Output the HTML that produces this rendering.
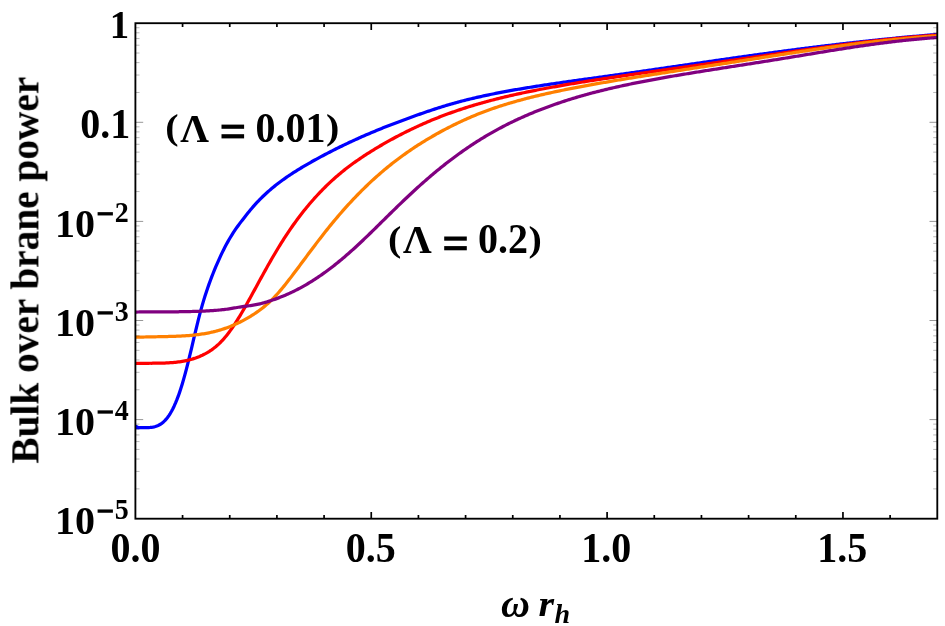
<!DOCTYPE html><html><head><meta charset="utf-8"><title>plot</title><style>html,body{margin:0;padding:0;background:#fff}svg{display:block}text{font-family:"Liberation Serif",serif;font-weight:bold;fill:#000}</style></head><body>
<svg width="945" height="626" viewBox="0 0 945 626">
<rect width="945" height="626" fill="#fff"/>
<defs><clipPath id="c"><rect x="135.40" y="23.20" width="802.89" height="495.50"/></clipPath></defs>
<g fill="none" stroke-width="3.25" stroke-linejoin="round" clip-path="url(#c)">
<path stroke="#0000ff" d="M135.40 427.64 L136.74 427.66 L138.08 427.68 L139.42 427.70 L140.75 427.71 L142.09 427.71 L143.43 427.71 L144.77 427.70 L146.11 427.67 L147.45 427.62 L148.79 427.55 L150.13 427.44 L151.46 427.29 L152.80 427.08 L154.14 426.81 L155.48 426.46 L156.82 426.03 L158.16 425.48 L159.50 424.82 L160.84 424.01 L162.17 423.06 L163.51 421.94 L164.85 420.65 L166.19 419.17 L167.53 417.49 L168.87 415.61 L170.21 413.53 L171.55 411.24 L172.88 408.72 L174.22 405.96 L175.56 402.96 L176.90 399.70 L178.24 396.17 L179.58 392.38 L180.92 388.31 L182.26 383.98 L183.59 379.40 L184.93 374.58 L186.27 369.56 L187.61 364.34 L188.95 358.95 L190.29 353.42 L191.63 347.78 L192.96 342.10 L194.30 336.42 L195.64 330.80 L196.98 325.29 L198.32 319.91 L199.66 314.71 L201.00 309.70 L202.34 304.93 L203.67 300.38 L205.01 296.04 L206.35 291.90 L207.69 287.93 L209.03 284.12 L210.37 280.45 L211.71 276.91 L213.05 273.50 L214.38 270.19 L215.72 266.97 L217.06 263.84 L218.40 260.79 L219.74 257.83 L221.08 254.94 L222.42 252.15 L223.76 249.44 L225.09 246.82 L226.43 244.29 L227.77 241.85 L229.11 239.51 L230.45 237.24 L231.79 235.06 L233.13 232.95 L234.46 230.91 L235.80 228.94 L237.14 227.04 L238.48 225.19 L239.82 223.40 L241.16 221.64 L242.50 219.90 L243.84 218.19 L245.17 216.48 L246.51 214.79 L247.85 213.11 L249.19 211.46 L250.53 209.83 L251.87 208.23 L253.21 206.67 L254.55 205.15 L255.88 203.66 L257.22 202.21 L258.56 200.80 L259.90 199.42 L261.24 198.07 L262.58 196.75 L263.92 195.47 L265.26 194.21 L266.59 192.98 L267.93 191.78 L269.27 190.60 L270.61 189.45 L271.95 188.32 L273.29 187.21 L274.63 186.13 L275.97 185.06 L277.30 184.02 L278.64 182.99 L279.98 181.98 L281.32 180.99 L282.66 180.02 L284.00 179.06 L285.34 178.12 L286.67 177.19 L288.01 176.27 L289.35 175.37 L290.69 174.48 L292.03 173.60 L293.37 172.74 L294.71 171.88 L296.05 171.04 L297.38 170.20 L298.72 169.37 L300.06 168.56 L301.40 167.75 L302.74 166.95 L304.08 166.15 L305.42 165.37 L306.76 164.59 L308.09 163.82 L309.43 163.05 L310.77 162.29 L312.11 161.53 L313.45 160.78 L314.79 160.04 L316.13 159.30 L317.47 158.57 L318.80 157.84 L320.14 157.12 L321.48 156.40 L322.82 155.69 L324.16 154.98 L325.50 154.28 L326.84 153.58 L328.17 152.89 L329.51 152.20 L330.85 151.51 L332.19 150.83 L333.53 150.15 L334.87 149.48 L336.21 148.81 L337.55 148.15 L338.88 147.49 L340.22 146.83 L341.56 146.18 L342.90 145.53 L344.24 144.88 L345.58 144.24 L346.92 143.61 L348.26 142.97 L349.59 142.34 L350.93 141.72 L352.27 141.10 L353.61 140.48 L354.95 139.87 L356.29 139.26 L357.63 138.65 L358.97 138.05 L360.30 137.45 L361.64 136.86 L362.98 136.27 L364.32 135.68 L365.66 135.10 L367.00 134.52 L368.34 133.95 L369.68 133.38 L371.01 132.81 L372.35 132.25 L373.69 131.69 L375.03 131.13 L376.37 130.58 L377.71 130.03 L379.05 129.48 L380.38 128.94 L381.72 128.40 L383.06 127.86 L384.40 127.33 L385.74 126.80 L387.08 126.27 L388.42 125.74 L389.76 125.22 L391.09 124.70 L392.43 124.19 L393.77 123.67 L395.11 123.16 L396.45 122.66 L397.79 122.15 L399.13 121.65 L400.47 121.15 L401.80 120.65 L403.14 120.15 L404.48 119.66 L405.82 119.16 L407.16 118.67 L408.50 118.18 L409.84 117.70 L411.18 117.21 L412.51 116.73 L413.85 116.25 L415.19 115.77 L416.53 115.29 L417.87 114.82 L419.21 114.35 L420.55 113.88 L421.88 113.41 L423.22 112.95 L424.56 112.49 L425.90 112.03 L427.24 111.57 L428.58 111.12 L429.92 110.67 L431.26 110.23 L432.59 109.79 L433.93 109.35 L435.27 108.91 L436.61 108.48 L437.95 108.05 L439.29 107.63 L440.63 107.20 L441.97 106.79 L443.30 106.37 L444.64 105.97 L445.98 105.56 L447.32 105.16 L448.66 104.76 L450.00 104.37 L451.34 103.99 L452.68 103.60 L454.01 103.22 L455.35 102.85 L456.69 102.48 L458.03 102.12 L459.37 101.76 L460.71 101.40 L462.05 101.05 L463.39 100.70 L464.72 100.36 L466.06 100.02 L467.40 99.69 L468.74 99.36 L470.08 99.03 L471.42 98.71 L472.76 98.39 L474.09 98.07 L475.43 97.76 L476.77 97.45 L478.11 97.14 L479.45 96.84 L480.79 96.54 L482.13 96.25 L483.47 95.95 L484.80 95.66 L486.14 95.38 L487.48 95.09 L488.82 94.81 L490.16 94.53 L491.50 94.26 L492.84 93.99 L494.18 93.72 L495.51 93.45 L496.85 93.19 L498.19 92.92 L499.53 92.66 L500.87 92.41 L502.21 92.15 L503.55 91.90 L504.89 91.65 L506.22 91.40 L507.56 91.15 L508.90 90.91 L510.24 90.67 L511.58 90.43 L512.92 90.19 L514.26 89.96 L515.59 89.72 L516.93 89.49 L518.27 89.26 L519.61 89.03 L520.95 88.80 L522.29 88.58 L523.63 88.36 L524.97 88.13 L526.30 87.91 L527.64 87.70 L528.98 87.48 L530.32 87.26 L531.66 87.05 L533.00 86.83 L534.34 86.62 L535.68 86.41 L537.01 86.20 L538.35 85.99 L539.69 85.79 L541.03 85.58 L542.37 85.38 L543.71 85.17 L545.05 84.97 L546.39 84.77 L547.72 84.57 L549.06 84.37 L550.40 84.17 L551.74 83.97 L553.08 83.78 L554.42 83.58 L555.76 83.38 L557.10 83.19 L558.43 83.00 L559.77 82.80 L561.11 82.61 L562.45 82.42 L563.79 82.23 L565.13 82.04 L566.47 81.85 L567.80 81.66 L569.14 81.47 L570.48 81.28 L571.82 81.09 L573.16 80.90 L574.50 80.71 L575.84 80.53 L577.18 80.34 L578.51 80.15 L579.85 79.97 L581.19 79.78 L582.53 79.60 L583.87 79.41 L585.21 79.23 L586.55 79.04 L587.89 78.86 L589.22 78.67 L590.56 78.49 L591.90 78.30 L593.24 78.12 L594.58 77.93 L595.92 77.75 L597.26 77.57 L598.60 77.38 L599.93 77.20 L601.27 77.01 L602.61 76.83 L603.95 76.64 L605.29 76.46 L606.63 76.27 L607.97 76.09 L609.30 75.90 L610.64 75.72 L611.98 75.53 L613.32 75.35 L614.66 75.16 L616.00 74.97 L617.34 74.79 L618.68 74.60 L620.01 74.41 L621.35 74.22 L622.69 74.03 L624.03 73.84 L625.37 73.66 L626.71 73.47 L628.05 73.28 L629.39 73.09 L630.72 72.90 L632.06 72.71 L633.40 72.51 L634.74 72.32 L636.08 72.13 L637.42 71.94 L638.76 71.75 L640.10 71.56 L641.43 71.36 L642.77 71.17 L644.11 70.98 L645.45 70.78 L646.79 70.59 L648.13 70.40 L649.47 70.20 L650.81 70.01 L652.14 69.82 L653.48 69.62 L654.82 69.43 L656.16 69.23 L657.50 69.04 L658.84 68.84 L660.18 68.65 L661.51 68.45 L662.85 68.26 L664.19 68.06 L665.53 67.87 L666.87 67.67 L668.21 67.48 L669.55 67.28 L670.89 67.09 L672.22 66.89 L673.56 66.70 L674.90 66.50 L676.24 66.31 L677.58 66.11 L678.92 65.92 L680.26 65.72 L681.60 65.52 L682.93 65.33 L684.27 65.13 L685.61 64.94 L686.95 64.74 L688.29 64.55 L689.63 64.35 L690.97 64.16 L692.31 63.96 L693.64 63.77 L694.98 63.57 L696.32 63.38 L697.66 63.18 L699.00 62.99 L700.34 62.79 L701.68 62.60 L703.01 62.40 L704.35 62.21 L705.69 62.01 L707.03 61.82 L708.37 61.63 L709.71 61.43 L711.05 61.24 L712.39 61.04 L713.72 60.85 L715.06 60.66 L716.40 60.47 L717.74 60.27 L719.08 60.08 L720.42 59.89 L721.76 59.70 L723.10 59.50 L724.43 59.31 L725.77 59.12 L727.11 58.93 L728.45 58.74 L729.79 58.55 L731.13 58.36 L732.47 58.16 L733.81 57.97 L735.14 57.78 L736.48 57.59 L737.82 57.41 L739.16 57.22 L740.50 57.03 L741.84 56.84 L743.18 56.65 L744.52 56.46 L745.85 56.27 L747.19 56.09 L748.53 55.90 L749.87 55.71 L751.21 55.53 L752.55 55.34 L753.89 55.15 L755.22 54.97 L756.56 54.78 L757.90 54.60 L759.24 54.41 L760.58 54.23 L761.92 54.05 L763.26 53.86 L764.60 53.68 L765.93 53.50 L767.27 53.31 L768.61 53.13 L769.95 52.95 L771.29 52.77 L772.63 52.59 L773.97 52.41 L775.31 52.23 L776.64 52.05 L777.98 51.87 L779.32 51.69 L780.66 51.51 L782.00 51.33 L783.34 51.16 L784.68 50.98 L786.02 50.80 L787.35 50.63 L788.69 50.45 L790.03 50.28 L791.37 50.10 L792.71 49.93 L794.05 49.75 L795.39 49.58 L796.72 49.41 L798.06 49.23 L799.40 49.06 L800.74 48.89 L802.08 48.72 L803.42 48.55 L804.76 48.38 L806.10 48.21 L807.43 48.04 L808.77 47.87 L810.11 47.70 L811.45 47.54 L812.79 47.37 L814.13 47.20 L815.47 47.04 L816.81 46.87 L818.14 46.71 L819.48 46.54 L820.82 46.38 L822.16 46.21 L823.50 46.05 L824.84 45.89 L826.18 45.73 L827.52 45.57 L828.85 45.41 L830.19 45.25 L831.53 45.09 L832.87 44.93 L834.21 44.77 L835.55 44.61 L836.89 44.45 L838.23 44.30 L839.56 44.14 L840.90 43.98 L842.24 43.83 L843.58 43.67 L844.92 43.52 L846.26 43.37 L847.60 43.21 L848.93 43.06 L850.27 42.91 L851.61 42.76 L852.95 42.61 L854.29 42.46 L855.63 42.31 L856.97 42.16 L858.31 42.01 L859.64 41.87 L860.98 41.72 L862.32 41.57 L863.66 41.43 L865.00 41.28 L866.34 41.14 L867.68 40.99 L869.02 40.85 L870.35 40.71 L871.69 40.57 L873.03 40.42 L874.37 40.28 L875.71 40.14 L877.05 40.00 L878.39 39.87 L879.73 39.73 L881.06 39.59 L882.40 39.45 L883.74 39.32 L885.08 39.18 L886.42 39.05 L887.76 38.91 L889.10 38.78 L890.43 38.65 L891.77 38.51 L893.11 38.38 L894.45 38.25 L895.79 38.12 L897.13 37.99 L898.47 37.86 L899.81 37.74 L901.14 37.61 L902.48 37.48 L903.82 37.35 L905.16 37.23 L906.50 37.10 L907.84 36.98 L909.18 36.86 L910.52 36.73 L911.85 36.61 L913.19 36.49 L914.53 36.37 L915.87 36.25 L917.21 36.13 L918.55 36.01 L919.89 35.90 L921.23 35.78 L922.56 35.66 L923.90 35.55 L925.24 35.43 L926.58 35.32 L927.92 35.21 L929.26 35.09 L930.60 34.98 L931.94 34.87 L933.27 34.76 L934.61 34.65 L935.95 34.54 L937.29 34.43"/>
<path stroke="#ff0000" d="M135.40 363.28 L136.74 363.28 L138.08 363.28 L139.42 363.28 L140.75 363.27 L142.09 363.27 L143.43 363.27 L144.77 363.27 L146.11 363.27 L147.45 363.26 L148.79 363.26 L150.13 363.25 L151.46 363.25 L152.80 363.24 L154.14 363.23 L155.48 363.22 L156.82 363.20 L158.16 363.18 L159.50 363.16 L160.84 363.13 L162.17 363.09 L163.51 363.05 L164.85 363.01 L166.19 362.95 L167.53 362.89 L168.87 362.82 L170.21 362.74 L171.55 362.64 L172.88 362.54 L174.22 362.42 L175.56 362.29 L176.90 362.14 L178.24 361.98 L179.58 361.80 L180.92 361.60 L182.26 361.38 L183.59 361.15 L184.93 360.89 L186.27 360.61 L187.61 360.30 L188.95 359.98 L190.29 359.63 L191.63 359.25 L192.96 358.84 L194.30 358.41 L195.64 357.96 L196.98 357.47 L198.32 356.95 L199.66 356.41 L201.00 355.83 L202.34 355.22 L203.67 354.57 L205.01 353.89 L206.35 353.16 L207.69 352.39 L209.03 351.58 L210.37 350.71 L211.71 349.80 L213.05 348.83 L214.38 347.80 L215.72 346.72 L217.06 345.57 L218.40 344.36 L219.74 343.08 L221.08 341.74 L222.42 340.32 L223.76 338.84 L225.09 337.29 L226.43 335.67 L227.77 333.98 L229.11 332.23 L230.45 330.40 L231.79 328.52 L233.13 326.57 L234.46 324.56 L235.80 322.50 L237.14 320.39 L238.48 318.23 L239.82 316.03 L241.16 313.78 L242.50 311.50 L243.84 309.18 L245.17 306.83 L246.51 304.46 L247.85 302.07 L249.19 299.65 L250.53 297.23 L251.87 294.78 L253.21 292.33 L254.55 289.88 L255.88 287.42 L257.22 284.96 L258.56 282.51 L259.90 280.05 L261.24 277.61 L262.58 275.18 L263.92 272.75 L265.26 270.34 L266.59 267.95 L267.93 265.57 L269.27 263.21 L270.61 260.87 L271.95 258.55 L273.29 256.25 L274.63 253.97 L275.97 251.72 L277.30 249.49 L278.64 247.28 L279.98 245.10 L281.32 242.95 L282.66 240.82 L284.00 238.72 L285.34 236.65 L286.67 234.60 L288.01 232.59 L289.35 230.60 L290.69 228.64 L292.03 226.71 L293.37 224.80 L294.71 222.93 L296.05 221.08 L297.38 219.26 L298.72 217.47 L300.06 215.71 L301.40 213.97 L302.74 212.26 L304.08 210.57 L305.42 208.91 L306.76 207.27 L308.09 205.66 L309.43 204.07 L310.77 202.51 L312.11 200.97 L313.45 199.45 L314.79 197.95 L316.13 196.48 L317.47 195.02 L318.80 193.59 L320.14 192.18 L321.48 190.79 L322.82 189.43 L324.16 188.08 L325.50 186.75 L326.84 185.44 L328.17 184.15 L329.51 182.88 L330.85 181.63 L332.19 180.40 L333.53 179.19 L334.87 177.99 L336.21 176.82 L337.55 175.66 L338.88 174.51 L340.22 173.39 L341.56 172.28 L342.90 171.19 L344.24 170.12 L345.58 169.06 L346.92 168.02 L348.26 167.00 L349.59 165.99 L350.93 164.99 L352.27 164.01 L353.61 163.04 L354.95 162.08 L356.29 161.14 L357.63 160.21 L358.97 159.29 L360.30 158.38 L361.64 157.48 L362.98 156.59 L364.32 155.71 L365.66 154.84 L367.00 153.97 L368.34 153.12 L369.68 152.27 L371.01 151.43 L372.35 150.60 L373.69 149.78 L375.03 148.96 L376.37 148.15 L377.71 147.35 L379.05 146.55 L380.38 145.76 L381.72 144.98 L383.06 144.20 L384.40 143.44 L385.74 142.67 L387.08 141.92 L388.42 141.17 L389.76 140.42 L391.09 139.69 L392.43 138.96 L393.77 138.23 L395.11 137.52 L396.45 136.80 L397.79 136.10 L399.13 135.40 L400.47 134.71 L401.80 134.02 L403.14 133.34 L404.48 132.66 L405.82 131.99 L407.16 131.33 L408.50 130.67 L409.84 130.02 L411.18 129.38 L412.51 128.74 L413.85 128.10 L415.19 127.47 L416.53 126.85 L417.87 126.23 L419.21 125.62 L420.55 125.02 L421.88 124.42 L423.22 123.82 L424.56 123.23 L425.90 122.65 L427.24 122.07 L428.58 121.50 L429.92 120.94 L431.26 120.37 L432.59 119.82 L433.93 119.27 L435.27 118.73 L436.61 118.19 L437.95 117.65 L439.29 117.13 L440.63 116.60 L441.97 116.09 L443.30 115.58 L444.64 115.07 L445.98 114.57 L447.32 114.08 L448.66 113.59 L450.00 113.10 L451.34 112.62 L452.68 112.15 L454.01 111.68 L455.35 111.21 L456.69 110.75 L458.03 110.29 L459.37 109.84 L460.71 109.40 L462.05 108.96 L463.39 108.52 L464.72 108.09 L466.06 107.66 L467.40 107.23 L468.74 106.82 L470.08 106.40 L471.42 105.99 L472.76 105.58 L474.09 105.18 L475.43 104.78 L476.77 104.39 L478.11 104.00 L479.45 103.61 L480.79 103.23 L482.13 102.85 L483.47 102.47 L484.80 102.10 L486.14 101.73 L487.48 101.37 L488.82 101.01 L490.16 100.65 L491.50 100.30 L492.84 99.95 L494.18 99.60 L495.51 99.26 L496.85 98.92 L498.19 98.58 L499.53 98.25 L500.87 97.92 L502.21 97.59 L503.55 97.27 L504.89 96.95 L506.22 96.63 L507.56 96.31 L508.90 96.00 L510.24 95.69 L511.58 95.39 L512.92 95.08 L514.26 94.78 L515.59 94.48 L516.93 94.19 L518.27 93.90 L519.61 93.61 L520.95 93.32 L522.29 93.03 L523.63 92.75 L524.97 92.47 L526.30 92.19 L527.64 91.91 L528.98 91.64 L530.32 91.36 L531.66 91.09 L533.00 90.83 L534.34 90.56 L535.68 90.30 L537.01 90.03 L538.35 89.77 L539.69 89.51 L541.03 89.26 L542.37 89.00 L543.71 88.75 L545.05 88.50 L546.39 88.25 L547.72 88.00 L549.06 87.75 L550.40 87.50 L551.74 87.26 L553.08 87.02 L554.42 86.78 L555.76 86.54 L557.10 86.30 L558.43 86.06 L559.77 85.83 L561.11 85.59 L562.45 85.36 L563.79 85.13 L565.13 84.90 L566.47 84.67 L567.80 84.44 L569.14 84.22 L570.48 83.99 L571.82 83.77 L573.16 83.55 L574.50 83.32 L575.84 83.10 L577.18 82.88 L578.51 82.66 L579.85 82.45 L581.19 82.23 L582.53 82.01 L583.87 81.80 L585.21 81.59 L586.55 81.37 L587.89 81.16 L589.22 80.95 L590.56 80.74 L591.90 80.53 L593.24 80.32 L594.58 80.11 L595.92 79.91 L597.26 79.70 L598.60 79.49 L599.93 79.29 L601.27 79.08 L602.61 78.88 L603.95 78.68 L605.29 78.47 L606.63 78.27 L607.97 78.07 L609.30 77.87 L610.64 77.67 L611.98 77.47 L613.32 77.27 L614.66 77.07 L616.00 76.88 L617.34 76.68 L618.68 76.48 L620.01 76.28 L621.35 76.09 L622.69 75.89 L624.03 75.70 L625.37 75.50 L626.71 75.31 L628.05 75.11 L629.39 74.92 L630.72 74.73 L632.06 74.53 L633.40 74.34 L634.74 74.15 L636.08 73.96 L637.42 73.76 L638.76 73.57 L640.10 73.38 L641.43 73.19 L642.77 73.00 L644.11 72.81 L645.45 72.62 L646.79 72.43 L648.13 72.24 L649.47 72.05 L650.81 71.86 L652.14 71.67 L653.48 71.48 L654.82 71.29 L656.16 71.10 L657.50 70.91 L658.84 70.72 L660.18 70.54 L661.51 70.35 L662.85 70.16 L664.19 69.97 L665.53 69.78 L666.87 69.59 L668.21 69.40 L669.55 69.22 L670.89 69.03 L672.22 68.84 L673.56 68.65 L674.90 68.46 L676.24 68.27 L677.58 68.09 L678.92 67.90 L680.26 67.71 L681.60 67.52 L682.93 67.33 L684.27 67.14 L685.61 66.95 L686.95 66.77 L688.29 66.58 L689.63 66.39 L690.97 66.20 L692.31 66.01 L693.64 65.82 L694.98 65.63 L696.32 65.44 L697.66 65.25 L699.00 65.06 L700.34 64.87 L701.68 64.68 L703.01 64.49 L704.35 64.30 L705.69 64.11 L707.03 63.92 L708.37 63.73 L709.71 63.54 L711.05 63.34 L712.39 63.15 L713.72 62.96 L715.06 62.77 L716.40 62.58 L717.74 62.39 L719.08 62.19 L720.42 62.00 L721.76 61.81 L723.10 61.62 L724.43 61.42 L725.77 61.23 L727.11 61.04 L728.45 60.85 L729.79 60.65 L731.13 60.46 L732.47 60.27 L733.81 60.07 L735.14 59.88 L736.48 59.69 L737.82 59.49 L739.16 59.30 L740.50 59.11 L741.84 58.91 L743.18 58.72 L744.52 58.53 L745.85 58.33 L747.19 58.14 L748.53 57.95 L749.87 57.75 L751.21 57.56 L752.55 57.36 L753.89 57.17 L755.22 56.98 L756.56 56.78 L757.90 56.59 L759.24 56.39 L760.58 56.20 L761.92 56.00 L763.26 55.81 L764.60 55.62 L765.93 55.42 L767.27 55.23 L768.61 55.03 L769.95 54.84 L771.29 54.64 L772.63 54.45 L773.97 54.26 L775.31 54.06 L776.64 53.87 L777.98 53.67 L779.32 53.48 L780.66 53.29 L782.00 53.09 L783.34 52.90 L784.68 52.71 L786.02 52.52 L787.35 52.32 L788.69 52.13 L790.03 51.94 L791.37 51.75 L792.71 51.56 L794.05 51.37 L795.39 51.17 L796.72 50.98 L798.06 50.79 L799.40 50.60 L800.74 50.41 L802.08 50.23 L803.42 50.04 L804.76 49.85 L806.10 49.66 L807.43 49.47 L808.77 49.29 L810.11 49.10 L811.45 48.91 L812.79 48.73 L814.13 48.54 L815.47 48.36 L816.81 48.17 L818.14 47.99 L819.48 47.80 L820.82 47.62 L822.16 47.44 L823.50 47.26 L824.84 47.08 L826.18 46.90 L827.52 46.72 L828.85 46.54 L830.19 46.36 L831.53 46.18 L832.87 46.00 L834.21 45.83 L835.55 45.65 L836.89 45.47 L838.23 45.30 L839.56 45.13 L840.90 44.95 L842.24 44.78 L843.58 44.61 L844.92 44.44 L846.26 44.27 L847.60 44.10 L848.93 43.93 L850.27 43.76 L851.61 43.59 L852.95 43.43 L854.29 43.26 L855.63 43.10 L856.97 42.93 L858.31 42.77 L859.64 42.61 L860.98 42.45 L862.32 42.28 L863.66 42.13 L865.00 41.97 L866.34 41.81 L867.68 41.65 L869.02 41.50 L870.35 41.34 L871.69 41.19 L873.03 41.04 L874.37 40.88 L875.71 40.73 L877.05 40.58 L878.39 40.43 L879.73 40.29 L881.06 40.14 L882.40 40.00 L883.74 39.85 L885.08 39.71 L886.42 39.56 L887.76 39.42 L889.10 39.28 L890.43 39.14 L891.77 39.01 L893.11 38.87 L894.45 38.74 L895.79 38.60 L897.13 38.47 L898.47 38.34 L899.81 38.21 L901.14 38.08 L902.48 37.95 L903.82 37.82 L905.16 37.70 L906.50 37.57 L907.84 37.45 L909.18 37.33 L910.52 37.21 L911.85 37.09 L913.19 36.97 L914.53 36.85 L915.87 36.74 L917.21 36.62 L918.55 36.51 L919.89 36.40 L921.23 36.29 L922.56 36.18 L923.90 36.07 L925.24 35.97 L926.58 35.87 L927.92 35.76 L929.26 35.66 L930.60 35.56 L931.94 35.46 L933.27 35.37 L934.61 35.27 L935.95 35.18 L937.29 35.09"/>
<path stroke="#ff8000" d="M135.40 337.25 L136.74 337.22 L138.08 337.18 L139.42 337.14 L140.75 337.10 L142.09 337.07 L143.43 337.03 L144.77 337.00 L146.11 336.97 L147.45 336.94 L148.79 336.91 L150.13 336.88 L151.46 336.85 L152.80 336.83 L154.14 336.80 L155.48 336.77 L156.82 336.75 L158.16 336.72 L159.50 336.70 L160.84 336.67 L162.17 336.64 L163.51 336.61 L164.85 336.58 L166.19 336.55 L167.53 336.52 L168.87 336.49 L170.21 336.45 L171.55 336.41 L172.88 336.37 L174.22 336.32 L175.56 336.27 L176.90 336.22 L178.24 336.16 L179.58 336.10 L180.92 336.04 L182.26 335.96 L183.59 335.89 L184.93 335.80 L186.27 335.71 L187.61 335.62 L188.95 335.51 L190.29 335.40 L191.63 335.28 L192.96 335.15 L194.30 335.02 L195.64 334.87 L196.98 334.71 L198.32 334.55 L199.66 334.37 L201.00 334.18 L202.34 333.98 L203.67 333.77 L205.01 333.54 L206.35 333.30 L207.69 333.05 L209.03 332.79 L210.37 332.51 L211.71 332.21 L213.05 331.91 L214.38 331.58 L215.72 331.24 L217.06 330.89 L218.40 330.51 L219.74 330.12 L221.08 329.72 L222.42 329.30 L223.76 328.86 L225.09 328.40 L226.43 327.93 L227.77 327.43 L229.11 326.92 L230.45 326.39 L231.79 325.85 L233.13 325.28 L234.46 324.70 L235.80 324.10 L237.14 323.48 L238.48 322.84 L239.82 322.18 L241.16 321.51 L242.50 320.82 L243.84 320.11 L245.17 319.38 L246.51 318.64 L247.85 317.88 L249.19 317.09 L250.53 316.29 L251.87 315.47 L253.21 314.62 L254.55 313.75 L255.88 312.85 L257.22 311.93 L258.56 310.98 L259.90 310.00 L261.24 308.99 L262.58 307.94 L263.92 306.87 L265.26 305.76 L266.59 304.61 L267.93 303.42 L269.27 302.20 L270.61 300.93 L271.95 299.63 L273.29 298.28 L274.63 296.89 L275.97 295.45 L277.30 293.99 L278.64 292.48 L279.98 290.94 L281.32 289.37 L282.66 287.76 L284.00 286.13 L285.34 284.47 L286.67 282.79 L288.01 281.08 L289.35 279.36 L290.69 277.62 L292.03 275.86 L293.37 274.09 L294.71 272.31 L296.05 270.52 L297.38 268.73 L298.72 266.93 L300.06 265.13 L301.40 263.33 L302.74 261.52 L304.08 259.72 L305.42 257.92 L306.76 256.11 L308.09 254.32 L309.43 252.52 L310.77 250.73 L312.11 248.95 L313.45 247.17 L314.79 245.40 L316.13 243.63 L317.47 241.88 L318.80 240.13 L320.14 238.40 L321.48 236.67 L322.82 234.95 L324.16 233.25 L325.50 231.55 L326.84 229.87 L328.17 228.20 L329.51 226.54 L330.85 224.90 L332.19 223.26 L333.53 221.64 L334.87 220.04 L336.21 218.44 L337.55 216.86 L338.88 215.29 L340.22 213.74 L341.56 212.20 L342.90 210.67 L344.24 209.16 L345.58 207.66 L346.92 206.17 L348.26 204.69 L349.59 203.23 L350.93 201.79 L352.27 200.35 L353.61 198.93 L354.95 197.53 L356.29 196.13 L357.63 194.75 L358.97 193.38 L360.30 192.03 L361.64 190.69 L362.98 189.36 L364.32 188.05 L365.66 186.75 L367.00 185.46 L368.34 184.18 L369.68 182.92 L371.01 181.67 L372.35 180.43 L373.69 179.20 L375.03 177.99 L376.37 176.79 L377.71 175.60 L379.05 174.43 L380.38 173.27 L381.72 172.11 L383.06 170.98 L384.40 169.85 L385.74 168.73 L387.08 167.63 L388.42 166.54 L389.76 165.46 L391.09 164.39 L392.43 163.33 L393.77 162.29 L395.11 161.25 L396.45 160.23 L397.79 159.22 L399.13 158.22 L400.47 157.22 L401.80 156.24 L403.14 155.27 L404.48 154.31 L405.82 153.36 L407.16 152.42 L408.50 151.49 L409.84 150.57 L411.18 149.66 L412.51 148.75 L413.85 147.86 L415.19 146.98 L416.53 146.10 L417.87 145.23 L419.21 144.38 L420.55 143.53 L421.88 142.69 L423.22 141.85 L424.56 141.03 L425.90 140.21 L427.24 139.41 L428.58 138.60 L429.92 137.81 L431.26 137.03 L432.59 136.25 L433.93 135.48 L435.27 134.72 L436.61 133.96 L437.95 133.22 L439.29 132.48 L440.63 131.75 L441.97 131.02 L443.30 130.30 L444.64 129.59 L445.98 128.89 L447.32 128.19 L448.66 127.51 L450.00 126.82 L451.34 126.15 L452.68 125.48 L454.01 124.82 L455.35 124.17 L456.69 123.52 L458.03 122.88 L459.37 122.24 L460.71 121.62 L462.05 121.00 L463.39 120.38 L464.72 119.78 L466.06 119.18 L467.40 118.59 L468.74 118.00 L470.08 117.42 L471.42 116.85 L472.76 116.28 L474.09 115.72 L475.43 115.17 L476.77 114.62 L478.11 114.08 L479.45 113.55 L480.79 113.02 L482.13 112.50 L483.47 111.98 L484.80 111.48 L486.14 110.98 L487.48 110.48 L488.82 109.99 L490.16 109.51 L491.50 109.04 L492.84 108.57 L494.18 108.10 L495.51 107.65 L496.85 107.20 L498.19 106.75 L499.53 106.31 L500.87 105.88 L502.21 105.45 L503.55 105.02 L504.89 104.61 L506.22 104.19 L507.56 103.78 L508.90 103.38 L510.24 102.98 L511.58 102.59 L512.92 102.20 L514.26 101.82 L515.59 101.44 L516.93 101.06 L518.27 100.69 L519.61 100.32 L520.95 99.96 L522.29 99.60 L523.63 99.24 L524.97 98.89 L526.30 98.54 L527.64 98.20 L528.98 97.86 L530.32 97.52 L531.66 97.19 L533.00 96.85 L534.34 96.53 L535.68 96.20 L537.01 95.88 L538.35 95.56 L539.69 95.24 L541.03 94.93 L542.37 94.62 L543.71 94.31 L545.05 94.01 L546.39 93.70 L547.72 93.40 L549.06 93.11 L550.40 92.81 L551.74 92.52 L553.08 92.23 L554.42 91.94 L555.76 91.65 L557.10 91.37 L558.43 91.09 L559.77 90.81 L561.11 90.53 L562.45 90.26 L563.79 89.98 L565.13 89.71 L566.47 89.44 L567.80 89.17 L569.14 88.91 L570.48 88.64 L571.82 88.38 L573.16 88.12 L574.50 87.86 L575.84 87.60 L577.18 87.35 L578.51 87.09 L579.85 86.84 L581.19 86.59 L582.53 86.34 L583.87 86.09 L585.21 85.84 L586.55 85.60 L587.89 85.35 L589.22 85.11 L590.56 84.87 L591.90 84.63 L593.24 84.39 L594.58 84.15 L595.92 83.91 L597.26 83.68 L598.60 83.44 L599.93 83.21 L601.27 82.97 L602.61 82.74 L603.95 82.51 L605.29 82.28 L606.63 82.05 L607.97 81.82 L609.30 81.59 L610.64 81.37 L611.98 81.14 L613.32 80.92 L614.66 80.69 L616.00 80.47 L617.34 80.25 L618.68 80.02 L620.01 79.80 L621.35 79.58 L622.69 79.36 L624.03 79.14 L625.37 78.92 L626.71 78.70 L628.05 78.49 L629.39 78.27 L630.72 78.05 L632.06 77.84 L633.40 77.62 L634.74 77.41 L636.08 77.19 L637.42 76.98 L638.76 76.76 L640.10 76.55 L641.43 76.34 L642.77 76.12 L644.11 75.91 L645.45 75.70 L646.79 75.49 L648.13 75.28 L649.47 75.07 L650.81 74.86 L652.14 74.65 L653.48 74.44 L654.82 74.23 L656.16 74.02 L657.50 73.81 L658.84 73.60 L660.18 73.39 L661.51 73.18 L662.85 72.97 L664.19 72.77 L665.53 72.56 L666.87 72.35 L668.21 72.14 L669.55 71.94 L670.89 71.73 L672.22 71.52 L673.56 71.31 L674.90 71.11 L676.24 70.90 L677.58 70.69 L678.92 70.49 L680.26 70.28 L681.60 70.07 L682.93 69.87 L684.27 69.66 L685.61 69.46 L686.95 69.25 L688.29 69.04 L689.63 68.84 L690.97 68.63 L692.31 68.43 L693.64 68.22 L694.98 68.01 L696.32 67.81 L697.66 67.60 L699.00 67.40 L700.34 67.19 L701.68 66.98 L703.01 66.78 L704.35 66.57 L705.69 66.36 L707.03 66.16 L708.37 65.95 L709.71 65.75 L711.05 65.54 L712.39 65.33 L713.72 65.13 L715.06 64.92 L716.40 64.71 L717.74 64.51 L719.08 64.30 L720.42 64.09 L721.76 63.89 L723.10 63.68 L724.43 63.47 L725.77 63.27 L727.11 63.06 L728.45 62.85 L729.79 62.65 L731.13 62.44 L732.47 62.23 L733.81 62.02 L735.14 61.82 L736.48 61.61 L737.82 61.40 L739.16 61.19 L740.50 60.98 L741.84 60.78 L743.18 60.57 L744.52 60.36 L745.85 60.15 L747.19 59.94 L748.53 59.73 L749.87 59.52 L751.21 59.31 L752.55 59.11 L753.89 58.90 L755.22 58.69 L756.56 58.48 L757.90 58.27 L759.24 58.06 L760.58 57.85 L761.92 57.64 L763.26 57.43 L764.60 57.22 L765.93 57.01 L767.27 56.80 L768.61 56.59 L769.95 56.38 L771.29 56.17 L772.63 55.96 L773.97 55.75 L775.31 55.54 L776.64 55.33 L777.98 55.12 L779.32 54.91 L780.66 54.71 L782.00 54.50 L783.34 54.29 L784.68 54.08 L786.02 53.88 L787.35 53.67 L788.69 53.46 L790.03 53.26 L791.37 53.05 L792.71 52.84 L794.05 52.64 L795.39 52.44 L796.72 52.23 L798.06 52.03 L799.40 51.83 L800.74 51.62 L802.08 51.42 L803.42 51.22 L804.76 51.02 L806.10 50.82 L807.43 50.62 L808.77 50.42 L810.11 50.22 L811.45 50.03 L812.79 49.83 L814.13 49.63 L815.47 49.44 L816.81 49.24 L818.14 49.05 L819.48 48.86 L820.82 48.66 L822.16 48.47 L823.50 48.28 L824.84 48.09 L826.18 47.90 L827.52 47.72 L828.85 47.53 L830.19 47.34 L831.53 47.16 L832.87 46.97 L834.21 46.79 L835.55 46.60 L836.89 46.42 L838.23 46.24 L839.56 46.06 L840.90 45.88 L842.24 45.70 L843.58 45.52 L844.92 45.35 L846.26 45.17 L847.60 45.00 L848.93 44.82 L850.27 44.65 L851.61 44.48 L852.95 44.31 L854.29 44.14 L855.63 43.97 L856.97 43.80 L858.31 43.64 L859.64 43.47 L860.98 43.31 L862.32 43.14 L863.66 42.98 L865.00 42.82 L866.34 42.66 L867.68 42.50 L869.02 42.34 L870.35 42.19 L871.69 42.03 L873.03 41.88 L874.37 41.72 L875.71 41.57 L877.05 41.42 L878.39 41.27 L879.73 41.12 L881.06 40.97 L882.40 40.82 L883.74 40.68 L885.08 40.53 L886.42 40.39 L887.76 40.25 L889.10 40.11 L890.43 39.97 L891.77 39.83 L893.11 39.69 L894.45 39.55 L895.79 39.42 L897.13 39.29 L898.47 39.15 L899.81 39.02 L901.14 38.89 L902.48 38.76 L903.82 38.63 L905.16 38.50 L906.50 38.38 L907.84 38.25 L909.18 38.13 L910.52 38.01 L911.85 37.89 L913.19 37.77 L914.53 37.65 L915.87 37.53 L917.21 37.41 L918.55 37.30 L919.89 37.18 L921.23 37.07 L922.56 36.96 L923.90 36.85 L925.24 36.74 L926.58 36.63 L927.92 36.52 L929.26 36.42 L930.60 36.31 L931.94 36.21 L933.27 36.11 L934.61 36.00 L935.95 35.90 L937.29 35.81"/>
<path stroke="#800080" d="M135.40 312.01 L136.74 312.01 L138.08 312.00 L139.42 311.99 L140.75 311.99 L142.09 311.98 L143.43 311.98 L144.77 311.97 L146.11 311.97 L147.45 311.96 L148.79 311.96 L150.13 311.95 L151.46 311.95 L152.80 311.94 L154.14 311.93 L155.48 311.93 L156.82 311.92 L158.16 311.92 L159.50 311.91 L160.84 311.91 L162.17 311.90 L163.51 311.89 L164.85 311.88 L166.19 311.87 L167.53 311.87 L168.87 311.86 L170.21 311.85 L171.55 311.83 L172.88 311.82 L174.22 311.81 L175.56 311.79 L176.90 311.78 L178.24 311.76 L179.58 311.74 L180.92 311.72 L182.26 311.70 L183.59 311.68 L184.93 311.65 L186.27 311.62 L187.61 311.60 L188.95 311.57 L190.29 311.53 L191.63 311.50 L192.96 311.47 L194.30 311.43 L195.64 311.39 L196.98 311.34 L198.32 311.30 L199.66 311.25 L201.00 311.20 L202.34 311.14 L203.67 311.09 L205.01 311.02 L206.35 310.96 L207.69 310.89 L209.03 310.81 L210.37 310.73 L211.71 310.65 L213.05 310.56 L214.38 310.46 L215.72 310.36 L217.06 310.25 L218.40 310.13 L219.74 310.00 L221.08 309.87 L222.42 309.73 L223.76 309.58 L225.09 309.41 L226.43 309.24 L227.77 309.06 L229.11 308.86 L230.45 308.65 L231.79 308.43 L233.13 308.20 L234.46 307.97 L235.80 307.73 L237.14 307.50 L238.48 307.27 L239.82 307.05 L241.16 306.84 L242.50 306.64 L243.84 306.46 L245.17 306.28 L246.51 306.10 L247.85 305.93 L249.19 305.75 L250.53 305.56 L251.87 305.37 L253.21 305.16 L254.55 304.93 L255.88 304.69 L257.22 304.42 L258.56 304.13 L259.90 303.82 L261.24 303.49 L262.58 303.14 L263.92 302.77 L265.26 302.39 L266.59 301.99 L267.93 301.58 L269.27 301.15 L270.61 300.72 L271.95 300.28 L273.29 299.82 L274.63 299.35 L275.97 298.87 L277.30 298.38 L278.64 297.88 L279.98 297.36 L281.32 296.83 L282.66 296.29 L284.00 295.74 L285.34 295.17 L286.67 294.59 L288.01 294.00 L289.35 293.39 L290.69 292.77 L292.03 292.14 L293.37 291.50 L294.71 290.84 L296.05 290.17 L297.38 289.48 L298.72 288.79 L300.06 288.07 L301.40 287.35 L302.74 286.61 L304.08 285.86 L305.42 285.09 L306.76 284.31 L308.09 283.52 L309.43 282.71 L310.77 281.89 L312.11 281.06 L313.45 280.21 L314.79 279.35 L316.13 278.47 L317.47 277.58 L318.80 276.68 L320.14 275.77 L321.48 274.84 L322.82 273.90 L324.16 272.95 L325.50 271.98 L326.84 271.00 L328.17 270.01 L329.51 269.00 L330.85 267.98 L332.19 266.95 L333.53 265.91 L334.87 264.86 L336.21 263.79 L337.55 262.71 L338.88 261.62 L340.22 260.52 L341.56 259.41 L342.90 258.29 L344.24 257.15 L345.58 256.01 L346.92 254.85 L348.26 253.68 L349.59 252.51 L350.93 251.32 L352.27 250.12 L353.61 248.92 L354.95 247.70 L356.29 246.47 L357.63 245.24 L358.97 243.99 L360.30 242.74 L361.64 241.48 L362.98 240.21 L364.32 238.93 L365.66 237.65 L367.00 236.36 L368.34 235.07 L369.68 233.77 L371.01 232.47 L372.35 231.16 L373.69 229.85 L375.03 228.54 L376.37 227.22 L377.71 225.91 L379.05 224.59 L380.38 223.27 L381.72 221.95 L383.06 220.63 L384.40 219.31 L385.74 217.99 L387.08 216.67 L388.42 215.35 L389.76 214.03 L391.09 212.72 L392.43 211.41 L393.77 210.10 L395.11 208.79 L396.45 207.49 L397.79 206.19 L399.13 204.89 L400.47 203.60 L401.80 202.32 L403.14 201.03 L404.48 199.76 L405.82 198.49 L407.16 197.22 L408.50 195.96 L409.84 194.70 L411.18 193.46 L412.51 192.21 L413.85 190.98 L415.19 189.75 L416.53 188.53 L417.87 187.31 L419.21 186.11 L420.55 184.91 L421.88 183.71 L423.22 182.53 L424.56 181.35 L425.90 180.18 L427.24 179.02 L428.58 177.86 L429.92 176.71 L431.26 175.58 L432.59 174.44 L433.93 173.32 L435.27 172.20 L436.61 171.10 L437.95 170.00 L439.29 168.91 L440.63 167.82 L441.97 166.75 L443.30 165.68 L444.64 164.62 L445.98 163.57 L447.32 162.53 L448.66 161.49 L450.00 160.47 L451.34 159.45 L452.68 158.44 L454.01 157.44 L455.35 156.45 L456.69 155.47 L458.03 154.49 L459.37 153.52 L460.71 152.56 L462.05 151.61 L463.39 150.67 L464.72 149.74 L466.06 148.81 L467.40 147.90 L468.74 146.99 L470.08 146.09 L471.42 145.20 L472.76 144.32 L474.09 143.44 L475.43 142.58 L476.77 141.72 L478.11 140.87 L479.45 140.03 L480.79 139.19 L482.13 138.37 L483.47 137.55 L484.80 136.75 L486.14 135.95 L487.48 135.16 L488.82 134.37 L490.16 133.60 L491.50 132.83 L492.84 132.07 L494.18 131.32 L495.51 130.58 L496.85 129.84 L498.19 129.12 L499.53 128.40 L500.87 127.69 L502.21 126.98 L503.55 126.29 L504.89 125.60 L506.22 124.91 L507.56 124.24 L508.90 123.57 L510.24 122.91 L511.58 122.25 L512.92 121.61 L514.26 120.97 L515.59 120.33 L516.93 119.70 L518.27 119.08 L519.61 118.47 L520.95 117.86 L522.29 117.26 L523.63 116.66 L524.97 116.07 L526.30 115.49 L527.64 114.91 L528.98 114.34 L530.32 113.77 L531.66 113.21 L533.00 112.66 L534.34 112.11 L535.68 111.57 L537.01 111.03 L538.35 110.50 L539.69 109.97 L541.03 109.45 L542.37 108.93 L543.71 108.42 L545.05 107.92 L546.39 107.42 L547.72 106.92 L549.06 106.43 L550.40 105.94 L551.74 105.46 L553.08 104.99 L554.42 104.51 L555.76 104.05 L557.10 103.59 L558.43 103.13 L559.77 102.68 L561.11 102.23 L562.45 101.78 L563.79 101.34 L565.13 100.91 L566.47 100.48 L567.80 100.05 L569.14 99.63 L570.48 99.21 L571.82 98.80 L573.16 98.39 L574.50 97.98 L575.84 97.58 L577.18 97.18 L578.51 96.79 L579.85 96.40 L581.19 96.01 L582.53 95.63 L583.87 95.25 L585.21 94.87 L586.55 94.50 L587.89 94.13 L589.22 93.77 L590.56 93.41 L591.90 93.05 L593.24 92.69 L594.58 92.34 L595.92 92.00 L597.26 91.65 L598.60 91.31 L599.93 90.97 L601.27 90.64 L602.61 90.31 L603.95 89.98 L605.29 89.65 L606.63 89.33 L607.97 89.01 L609.30 88.70 L610.64 88.38 L611.98 88.07 L613.32 87.77 L614.66 87.46 L616.00 87.16 L617.34 86.86 L618.68 86.56 L620.01 86.26 L621.35 85.97 L622.69 85.68 L624.03 85.39 L625.37 85.11 L626.71 84.82 L628.05 84.54 L629.39 84.26 L630.72 83.99 L632.06 83.71 L633.40 83.44 L634.74 83.17 L636.08 82.90 L637.42 82.63 L638.76 82.37 L640.10 82.10 L641.43 81.84 L642.77 81.58 L644.11 81.32 L645.45 81.07 L646.79 80.81 L648.13 80.56 L649.47 80.31 L650.81 80.06 L652.14 79.81 L653.48 79.56 L654.82 79.32 L656.16 79.07 L657.50 78.83 L658.84 78.59 L660.18 78.35 L661.51 78.11 L662.85 77.87 L664.19 77.63 L665.53 77.40 L666.87 77.16 L668.21 76.93 L669.55 76.69 L670.89 76.46 L672.22 76.23 L673.56 76.00 L674.90 75.77 L676.24 75.55 L677.58 75.32 L678.92 75.09 L680.26 74.87 L681.60 74.65 L682.93 74.42 L684.27 74.20 L685.61 73.98 L686.95 73.76 L688.29 73.54 L689.63 73.32 L690.97 73.10 L692.31 72.88 L693.64 72.66 L694.98 72.44 L696.32 72.23 L697.66 72.01 L699.00 71.79 L700.34 71.58 L701.68 71.36 L703.01 71.15 L704.35 70.94 L705.69 70.72 L707.03 70.51 L708.37 70.30 L709.71 70.08 L711.05 69.87 L712.39 69.66 L713.72 69.45 L715.06 69.24 L716.40 69.03 L717.74 68.81 L719.08 68.60 L720.42 68.39 L721.76 68.18 L723.10 67.97 L724.43 67.76 L725.77 67.55 L727.11 67.34 L728.45 67.13 L729.79 66.92 L731.13 66.72 L732.47 66.51 L733.81 66.30 L735.14 66.09 L736.48 65.88 L737.82 65.67 L739.16 65.46 L740.50 65.25 L741.84 65.04 L743.18 64.83 L744.52 64.62 L745.85 64.41 L747.19 64.20 L748.53 63.99 L749.87 63.78 L751.21 63.57 L752.55 63.36 L753.89 63.15 L755.22 62.94 L756.56 62.73 L757.90 62.52 L759.24 62.30 L760.58 62.09 L761.92 61.88 L763.26 61.67 L764.60 61.46 L765.93 61.24 L767.27 61.03 L768.61 60.82 L769.95 60.60 L771.29 60.39 L772.63 60.18 L773.97 59.96 L775.31 59.75 L776.64 59.53 L777.98 59.31 L779.32 59.10 L780.66 58.88 L782.00 58.66 L783.34 58.45 L784.68 58.23 L786.02 58.01 L787.35 57.79 L788.69 57.57 L790.03 57.35 L791.37 57.13 L792.71 56.91 L794.05 56.69 L795.39 56.47 L796.72 56.25 L798.06 56.03 L799.40 55.81 L800.74 55.58 L802.08 55.36 L803.42 55.14 L804.76 54.92 L806.10 54.69 L807.43 54.47 L808.77 54.25 L810.11 54.03 L811.45 53.80 L812.79 53.58 L814.13 53.36 L815.47 53.14 L816.81 52.92 L818.14 52.70 L819.48 52.48 L820.82 52.26 L822.16 52.04 L823.50 51.82 L824.84 51.60 L826.18 51.38 L827.52 51.16 L828.85 50.94 L830.19 50.73 L831.53 50.51 L832.87 50.30 L834.21 50.08 L835.55 49.87 L836.89 49.65 L838.23 49.44 L839.56 49.23 L840.90 49.02 L842.24 48.81 L843.58 48.60 L844.92 48.39 L846.26 48.18 L847.60 47.98 L848.93 47.77 L850.27 47.57 L851.61 47.37 L852.95 47.16 L854.29 46.96 L855.63 46.76 L856.97 46.56 L858.31 46.37 L859.64 46.17 L860.98 45.98 L862.32 45.78 L863.66 45.59 L865.00 45.40 L866.34 45.21 L867.68 45.02 L869.02 44.83 L870.35 44.65 L871.69 44.46 L873.03 44.28 L874.37 44.10 L875.71 43.92 L877.05 43.74 L878.39 43.56 L879.73 43.38 L881.06 43.21 L882.40 43.04 L883.74 42.87 L885.08 42.70 L886.42 42.53 L887.76 42.36 L889.10 42.20 L890.43 42.03 L891.77 41.87 L893.11 41.71 L894.45 41.56 L895.79 41.40 L897.13 41.25 L898.47 41.09 L899.81 40.94 L901.14 40.79 L902.48 40.65 L903.82 40.50 L905.16 40.36 L906.50 40.22 L907.84 40.08 L909.18 39.94 L910.52 39.80 L911.85 39.67 L913.19 39.54 L914.53 39.41 L915.87 39.28 L917.21 39.15 L918.55 39.03 L919.89 38.91 L921.23 38.79 L922.56 38.67 L923.90 38.55 L925.24 38.44 L926.58 38.33 L927.92 38.22 L929.26 38.11 L930.60 38.00 L931.94 37.90 L933.27 37.80 L934.61 37.70 L935.95 37.60 L937.29 37.51"/>
<path stroke="#0000ff" d="M135.40 425.6 Q136.40 427.4 138.60 427.7"/>
</g>
<path d="M135.40 122.30 h7.8 M937.29 122.30 h-7.8 M135.40 221.40 h7.8 M937.29 221.40 h-7.8 M135.40 320.50 h7.8 M937.29 320.50 h-7.8 M135.40 419.60 h7.8 M937.29 419.60 h-7.8" stroke="#000" stroke-opacity="0.75" stroke-width="0.55" fill="none"/>
<path d="M135.40 92.47 h4.1 M937.29 92.47 h-4.1 M135.40 75.02 h4.1 M937.29 75.02 h-4.1 M135.40 62.64 h4.1 M937.29 62.64 h-4.1 M135.40 53.03 h4.1 M937.29 53.03 h-4.1 M135.40 45.19 h4.1 M937.29 45.19 h-4.1 M135.40 38.55 h4.1 M937.29 38.55 h-4.1 M135.40 32.80 h4.1 M937.29 32.80 h-4.1 M135.40 27.73 h4.1 M937.29 27.73 h-4.1 M135.40 191.57 h4.1 M937.29 191.57 h-4.1 M135.40 174.12 h4.1 M937.29 174.12 h-4.1 M135.40 161.74 h4.1 M937.29 161.74 h-4.1 M135.40 152.13 h4.1 M937.29 152.13 h-4.1 M135.40 144.29 h4.1 M937.29 144.29 h-4.1 M135.40 137.65 h4.1 M937.29 137.65 h-4.1 M135.40 131.90 h4.1 M937.29 131.90 h-4.1 M135.40 126.83 h4.1 M937.29 126.83 h-4.1 M135.40 290.67 h4.1 M937.29 290.67 h-4.1 M135.40 273.22 h4.1 M937.29 273.22 h-4.1 M135.40 260.84 h4.1 M937.29 260.84 h-4.1 M135.40 251.23 h4.1 M937.29 251.23 h-4.1 M135.40 243.39 h4.1 M937.29 243.39 h-4.1 M135.40 236.75 h4.1 M937.29 236.75 h-4.1 M135.40 231.00 h4.1 M937.29 231.00 h-4.1 M135.40 225.93 h4.1 M937.29 225.93 h-4.1 M135.40 389.77 h4.1 M937.29 389.77 h-4.1 M135.40 372.32 h4.1 M937.29 372.32 h-4.1 M135.40 359.94 h4.1 M937.29 359.94 h-4.1 M135.40 350.33 h4.1 M937.29 350.33 h-4.1 M135.40 342.49 h4.1 M937.29 342.49 h-4.1 M135.40 335.85 h4.1 M937.29 335.85 h-4.1 M135.40 330.10 h4.1 M937.29 330.10 h-4.1 M135.40 325.03 h4.1 M937.29 325.03 h-4.1 M135.40 488.87 h4.1 M937.29 488.87 h-4.1 M135.40 471.42 h4.1 M937.29 471.42 h-4.1 M135.40 459.04 h4.1 M937.29 459.04 h-4.1 M135.40 449.43 h4.1 M937.29 449.43 h-4.1 M135.40 441.59 h4.1 M937.29 441.59 h-4.1 M135.40 434.95 h4.1 M937.29 434.95 h-4.1 M135.40 429.20 h4.1 M937.29 429.20 h-4.1 M135.40 424.13 h4.1 M937.29 424.13 h-4.1" stroke="#000" stroke-opacity="0.5" stroke-width="0.55" fill="none"/>
<path d="M182.57 518.70 v-3.80 M182.57 23.20 v3.80 M229.74 518.70 v-3.80 M229.74 23.20 v3.80 M276.91 518.70 v-3.80 M276.91 23.20 v3.80 M324.08 518.70 v-3.80 M324.08 23.20 v3.80 M371.25 518.70 v-6.70 M371.25 23.20 v6.70 M418.42 518.70 v-3.80 M418.42 23.20 v3.80 M465.59 518.70 v-3.80 M465.59 23.20 v3.80 M512.76 518.70 v-3.80 M512.76 23.20 v3.80 M559.93 518.70 v-3.80 M559.93 23.20 v3.80 M607.10 518.70 v-6.70 M607.10 23.20 v6.70 M654.27 518.70 v-3.80 M654.27 23.20 v3.80 M701.44 518.70 v-3.80 M701.44 23.20 v3.80 M748.61 518.70 v-3.80 M748.61 23.20 v3.80 M795.78 518.70 v-3.80 M795.78 23.20 v3.80 M842.95 518.70 v-6.70 M842.95 23.20 v6.70 M890.12 518.70 v-3.80 M890.12 23.20 v3.80" stroke="#000" stroke-width="1.7" fill="none"/>
<rect x="135.40" y="23.20" width="801.89" height="495.50" fill="none" stroke="#000" stroke-width="1.85"/>
<g style="filter:grayscale(1)">
<text transform="translate(135.40 561.80) scale(1.0000 1.0300)" font-size="40" text-anchor="middle">0.0</text>
<text transform="translate(370.75 561.80) scale(1.0000 1.0300)" font-size="40" text-anchor="middle">0.5</text>
<text transform="translate(606.30 561.80) scale(1.0000 1.0300)" font-size="40" text-anchor="middle">1.0</text>
<text transform="translate(842.15 561.80) scale(1.0000 1.0300)" font-size="40" text-anchor="middle">1.5</text>
<text transform="translate(129.20 38.20) scale(0.9700 0.9800)" font-size="40" text-anchor="end">1</text>
<text transform="translate(130.20 137.90) scale(1.0000 1.0300)" font-size="40" text-anchor="end">0.1</text>
<text transform="translate(95.00 236.70)" font-size="40" text-anchor="end">10</text>
<text transform="translate(128.80 221.70) scale(1.0000 1.0300)" font-size="28" text-anchor="end">2</text>
<rect x="97.6" y="212.15" width="15.3" height="3.3"/>
<text transform="translate(95.00 335.80)" font-size="40" text-anchor="end">10</text>
<text transform="translate(128.80 320.80) scale(1.0000 1.0300)" font-size="28" text-anchor="end">3</text>
<rect x="97.6" y="311.25" width="15.3" height="3.3"/>
<text transform="translate(95.00 434.90)" font-size="40" text-anchor="end">10</text>
<text transform="translate(128.80 419.90) scale(1.0000 1.0300)" font-size="28" text-anchor="end">4</text>
<rect x="97.6" y="410.35" width="15.3" height="3.3"/>
<text transform="translate(95.00 534.00)" font-size="40" text-anchor="end">10</text>
<text transform="translate(128.80 519.00) scale(1.0000 1.0300)" font-size="28" text-anchor="end">5</text>
<rect x="97.6" y="509.45" width="15.3" height="3.3"/>
<text transform="translate(38.40 270.20) rotate(-90) scale(0.9830 1.0000)" font-size="40" text-anchor="middle">Bulk over brane power</text>
<text transform="translate(501.00 616.50)" font-size="40" text-anchor="start" font-style="italic">ω</text>
<text transform="translate(538.50 616.40) scale(1.0000 0.9000)" font-size="40" text-anchor="start" font-style="italic">r</text>
<text transform="translate(554.50 622.90)" font-size="28" text-anchor="start" font-style="italic">h</text>
<text transform="translate(165.20 139.40) scale(1.0000 0.8940)" font-size="40" text-anchor="start">(</text>
<text transform="translate(180.20 141.50)" font-size="40" text-anchor="start">Λ</text>
<rect x="221.50" y="124.60" width="22.6" height="4.2"/>
<rect x="221.50" y="134.20" width="22.6" height="4.2"/>
<text transform="translate(255.40 141.50) scale(1.0000 1.0300)" font-size="40" text-anchor="start">0.01</text>
<text transform="translate(326.00 139.40) scale(1.0000 0.8940)" font-size="40" text-anchor="start">)</text>
<text transform="translate(387.90 251.30) scale(1.0000 0.8940)" font-size="40" text-anchor="start">(</text>
<text transform="translate(402.90 253.40)" font-size="40" text-anchor="start">Λ</text>
<rect x="444.20" y="236.50" width="22.6" height="4.2"/>
<rect x="444.20" y="246.10" width="22.6" height="4.2"/>
<text transform="translate(478.10 253.40) scale(1.0000 1.0300)" font-size="40" text-anchor="start">0.2</text>
<text transform="translate(528.50 251.30) scale(1.0000 0.8940)" font-size="40" text-anchor="start">)</text>
</g>
</svg></body></html>
